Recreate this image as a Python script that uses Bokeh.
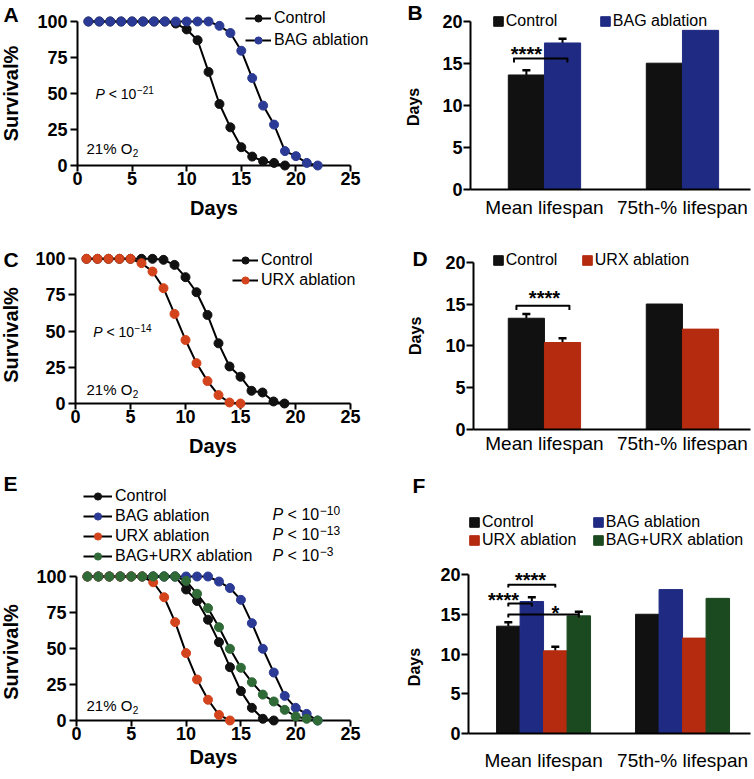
import math
from bokeh.plotting import figure
from bokeh.layouts import column, row
from bokeh.models import (Range1d, FixedTicker, Legend, LegendItem, Label,
                          Whisker, TeeHead, ColumnDataSource)
from bokeh.core.properties import value
from bokeh.embed import file_html
from bokeh.resources import INLINE

FONT = "Liberation Sans"

# ---------------- data ----------------
# Panel A (survival %, BAG ablation)
a_ctrl_days = list(range(1, 20))
a_ctrl = [100, 100, 100, 100, 100, 100, 100, 100, 98.6, 94.5, 87, 65, 42.7, 26.5, 12.7, 6.2, 3.0, 1.8, 0]
a_bag_days = list(range(1, 23))
a_bag = [100, 100, 100, 100, 100, 100, 100, 100, 100, 100, 100, 100, 97, 92, 79.7, 60.7, 41.6, 28.4, 10, 6.5, 1.8, 0]

# Panel C (survival %, URX ablation)
c_ctrl_days = list(range(1, 20))
c_ctrl = [100, 100, 100, 100, 100, 100, 100, 99.3, 95.8, 87.3, 76.9, 61.2, 41.6, 25.6, 18.5, 8.8, 7.6, 1.4, 0]
c_urx_days = list(range(1, 16))
c_urx = [100, 100, 100, 100, 100, 97, 91.2, 79.7, 61.9, 43.9, 27.9, 15.5, 5.8, 0.7, 0]

# Panel E (survival %, all)
e_ctrl_days = list(range(1, 19))
e_ctrl = [100, 100, 100, 100, 100, 100, 100, 100, 100, 91, 83, 70, 54.4, 37, 20.4, 8.8, 1.2, 0]
e_bag_days = list(range(1, 23))
e_bag = [100, 100, 100, 100, 100, 100, 100, 100, 100, 100, 100, 100, 96.5, 92, 83.8, 67.6, 49.8, 33.3, 17.1, 8.8, 4.6, 0]
e_urx_days = list(range(1, 15))
e_urx = [100, 100, 100, 100, 100, 100, 96, 85.6, 68.3, 46.8, 28.5, 14.4, 3.9, 0]
e_combo_days = list(range(1, 23))
e_combo = [100, 100, 100, 100, 100, 100, 100, 100, 100, 97, 88, 78, 64.8, 49.8, 36.6, 26.6, 18, 13.2, 7.4, 2.8, 1.2, 0]

# Bar panels (days): [mean lifespan, 75th-% lifespan]; SEM only for mean
categories = ["Mean lifespan", "75th-% lifespan"]
b_ctrl = [13.6, 15.0]
b_bag = [17.4, 18.9]
b_sem = [0.55, 0.5]

d_ctrl = [13.3, 15.0]
d_urx = [10.4, 12.0]
d_sem = [0.5, 0.5]

f_ctrl = [13.5, 15.0]
f_bag = [16.6, 18.1]
f_urx = [10.4, 12.0]
f_combo = [14.8, 17.0]
f_sem = [0.5, 0.55, 0.5, 0.5]

x_ticks_days = [0, 5, 10, 15, 20, 25]
y_ticks_surv = [0, 25, 50, 75, 100]
y_ticks_bar = [0, 5, 10, 15, 20]

# colours
BLACK = "#111111"
DOT_BLUE = "#2b3b95"
DOT_RED = "#d4441c"
DOT_GREEN = "#2f6a37"
BAR_BLUE = "#1f2a83"
BAR_RED = "#b52b0f"
BAR_GREEN = "#1c4a20"


def make_fig(w, h, left, right, top, bottom, xr, yr):
    p = figure(width=w, height=h, x_range=xr, y_range=yr,
               output_backend="svg", toolbar_location=None,
               min_border_left=left, min_border_right=right,
               min_border_top=top, min_border_bottom=bottom,
               frame_align=False)
    p.outline_line_color = None
    p.xgrid.visible = False
    p.ygrid.visible = False
    for ax in p.axis:
        ax.axis_line_width = 2
        ax.axis_line_color = "black"
        ax.major_tick_line_width = 2
        ax.major_tick_line_color = "black"
        ax.major_tick_in = 0
        ax.minor_tick_line_color = None
        ax.major_label_text_font = FONT
        ax.major_label_text_font_size = "18px"
        ax.major_label_text_font_style = "bold"
        ax.major_label_text_color = "black"
    return p


def free_text(p, x, y, text, xo, yo, size, style="bold", angle=0.0, align="left"):
    # text glyph at overlay level so it may sit outside the frame
    p.text(x=[x], y=[y], text=[text], x_offset=xo, y_offset=yo, angle=angle,
           text_font=value(FONT), text_font_style=style, text_font_size=f"{size}px",
           text_baseline="middle", text_align=align, text_color="black",
           level="overlay")


def add_pvalue(p, x, y, xo, yo, sup, fs, sup_dy):
    common = dict(x=x, y=y, text_font=FONT, text_baseline="middle",
                  text_align="left", text_color="black")
    p.add_layout(Label(x_offset=xo, y_offset=yo, text="P",
                       text_font_style="italic", text_font_size=f"{fs}px", **common))
    p.add_layout(Label(x_offset=xo + fs * 0.945, y_offset=yo, text="< 10",
                       text_font_size=f"{fs}px", **common))
    p.add_layout(Label(x_offset=xo + fs * 2.92 + 0.5, y_offset=yo + sup_dy, text=sup,
                       text_font_size=f"{round(fs * 0.72)}px", **common))


def add_o2(p, xo, yo):
    common = dict(x=0, y=0, text_font=FONT, text_baseline="middle",
                  text_align="left", text_color="black")
    p.add_layout(Label(x_offset=xo, y_offset=yo, text="21% O",
                       text_font_size="15px", **common))
    p.add_layout(Label(x_offset=xo + 15 * 3.057 + 0.5, y_offset=yo - 4.8, text="2",
                       text_font_size="10px", **common))


def survival_panel(dims, x_end, y_end, series, legend_loc, glyph_w, spacing):
    w, h, l, r, t, b = dims
    p = make_fig(w, h, l, r, t, b, Range1d(0, x_end), Range1d(0, y_end))
    p.xaxis.ticker = FixedTicker(ticks=x_ticks_days)
    p.yaxis.ticker = FixedTicker(ticks=y_ticks_surv)
    p.xaxis.bounds = (0, 25)
    p.yaxis.bounds = (0, 100)
    p.xaxis.major_tick_out = 6
    p.xaxis.major_label_standoff = 0
    p.yaxis.major_tick_out = 7
    p.yaxis.major_label_standoff = 3
    items = []
    for days, vals, color, name in series:
        lr = p.line(days, vals, line_color="black", line_width=2)
        sr = p.scatter(days, vals, size=9, fill_color=color, line_color=color,
                       level="overlay")
        items.append(LegendItem(label=name, renderers=[lr, sr]))
    leg = Legend(items=items, location=legend_loc, orientation="vertical",
                 border_line_color=None, background_fill_alpha=0,
                 padding=0, margin=0, spacing=spacing,
                 glyph_width=glyph_w, glyph_height=18, label_height=18,
                 label_standoff=3, label_text_font=FONT,
                 label_text_font_size="16px", label_text_color="black")
    p.add_layout(leg)
    return p


def bar_panel(dims, x_start, px_per_unit, y_end, groups, colors, names, sems, bw,
              legend_cols, cat_standoff):
    w, h, l, r, t, b = dims
    frame_w = w - l - r
    x_end = x_start + frame_w / px_per_unit
    p = make_fig(w, h, l, r, t, b, Range1d(x_start, x_end), Range1d(0, y_end))
    p.xaxis.bounds = (x_start, x_end - 4 / px_per_unit)
    p.yaxis.bounds = (0, 20)
    p.xaxis.ticker = FixedTicker(ticks=list(range(len(categories))))
    p.xaxis.major_label_overrides = {i: c for i, c in enumerate(categories)}
    p.xaxis.major_tick_out = 0
    p.xaxis.major_label_standoff = cat_standoff
    p.xaxis.major_label_text_font_style = "normal"
    p.xaxis.major_label_text_font_size = "19px"
    p.yaxis.ticker = FixedTicker(ticks=y_ticks_bar)
    p.yaxis.major_tick_out = 7
    p.yaxis.major_label_standoff = 1
    n = len(groups)
    renderers = []
    centers = []
    for i, (vals, col) in enumerate(zip(groups, colors)):
        off = (i - (n - 1) / 2) * bw
        xs = [k + off for k in range(len(categories))]
        centers.append(xs)
        rr = p.vbar(x=xs, top=vals, width=bw, bottom=0, fill_color=col, line_color=col)
        renderers.append(rr)
    src = ColumnDataSource(dict(base=[c[0] for c in centers],
                                lower=[g[0] for g in groups],
                                upper=[g[0] + s for g, s in zip(groups, sems)]))
    p.add_layout(Whisker(source=src, base="base", lower="lower", upper="upper",
                         dimension="height", line_width=2, line_color="black",
                         lower_head=None,
                         upper_head=TeeHead(size=8, line_width=2.5, line_color="black")))
    for idx_list, (vx, vy) in legend_cols:
        items = [LegendItem(label=names[i], renderers=[renderers[i]]) for i in idx_list]
        leg = Legend(items=items, location=(vx, vy), orientation="vertical",
                     border_line_color=None, background_fill_alpha=0,
                     padding=0, margin=0, spacing=0,
                     glyph_width=12, glyph_height=12, label_height=18,
                     label_standoff=2, label_text_font=FONT,
                     label_text_font_size="16px", label_text_color="black")
        p.add_layout(leg)
    return p, centers


def bracket(p, x0, x1, y, drop):
    p.multi_line(xs=[[x0, x0, x1, x1]], ys=[[y - drop, y, y, y - drop]],
                 line_color="black", line_width=2, line_join="round")


def stars(p, x, y, s):
    p.text(x=[x], y=[y], text=[s], text_font=value(FONT), text_font_style="bold",
           text_font_size="20px", text_align="center", text_baseline="middle",
           text_color="black")


UP = math.pi / 2

# ---------------- Panel A ----------------
pa = survival_panel((380, 220, 77, 0, 0, 55), 303 / 10.92, 165 / 1.44,
                    [(a_ctrl_days, a_ctrl, BLACK, "Control"),
                     (a_bag_days, a_bag, DOT_BLUE, "BAG ablation")],
                    (168, 116), 26, 4)
free_text(pa, 0, 100, "A", -74, -7, 21)
free_text(pa, 0, 50, "Survival%", -66.5, 0, 20, angle=UP, align="center")
free_text(pa, 12.5, 0, "Days", 0, 42, 20, align="center")
add_pvalue(pa, 0, 100, 18, -72, "\u221221", 14, 4)
add_o2(pa, 9, 17.5)

# ---------------- Panel B ----------------
pb, cb = bar_panel((374, 220, 90, 0, 0, 30), -0.536, 138, 190 / 8.465,
                   [b_ctrl, b_bag], [BLACK, BAR_BLUE], ["Control", "BAG ablation"],
                   b_sem, 0.262, [([0], (21.8, 159)), ([1], (128.8, 159))], 7)
bracket(pb, cb[0][0] - 0.09, cb[1][0] + 0.035, 15.55, 0.47)
stars(pb, cb[0][0], 16.14, "****")
free_text(pb, -0.536, 20, "B", -63, -9, 21)
free_text(pb, -0.536, 10, "Days", -57, 1.6, 16, angle=UP, align="center")

# ---------------- Panel C ----------------
pc = survival_panel((380, 242, 75, 0, 0, 59), 305 / 11.0, 183 / 1.447,
                    [(c_ctrl_days, c_ctrl, BLACK, "Control"),
                     (c_urx_days, c_urx, DOT_RED, "URX ablation")],
                    (157, 114), 26, 2)
free_text(pc, 0, 100, "C", -72, 1, 21)
free_text(pc, 0, 50, "Survival%", -64.5, 3.8, 20, angle=UP, align="center")
free_text(pc, 12.5, 0, "Days", 0, 42, 20, align="center")
add_pvalue(pc, 0, 100, 17.7, -73, "\u221214", 14, 4.3)
add_o2(pc, 11, 14.3)

# ---------------- Panel D ----------------
pd_, cd = bar_panel((374, 242, 93, 0, 0, 33), -0.514, 138, 209 / 8.365,
                    [d_ctrl, d_urx], [BLACK, BAR_RED], ["Control", "URX ablation"],
                    d_sem, 0.262, [([0], (18.8, 160)), ([1], (107.8, 160))], 3)
bracket(pd_, cd[0][0] - 0.072, cd[1][0] + 0.05, 14.8, 0.5)
stars(pd_, (cd[0][0] + cd[1][0]) / 2, 15.77, "****")
free_text(pd_, -0.514, 20, "D", -61, -4, 21)
free_text(pd_, -0.514, 10, "Days", -58, -10, 16, angle=UP, align="center")

# ---------------- Panel E ----------------
pe = survival_panel((380, 317, 76, 0, 0, 59), 304 / 10.96, 258 / 1.44,
                    [(e_ctrl_days, e_ctrl, BLACK, "Control"),
                     (e_bag_days, e_bag, DOT_BLUE, "BAG ablation"),
                     (e_urx_days, e_urx, DOT_RED, "URX ablation"),
                     (e_combo_days, e_combo, DOT_GREEN, "BAG+URX ablation")],
                    (7, 155), 29, 2)
free_text(pe, 0, 100, "E", -73, -93, 21)
free_text(pe, 0, 50, "Survival%", -65.5, 3.5, 20, angle=UP, align="center")
free_text(pe, 12.5, 0, "Days", 0, 36, 20, align="center")
add_pvalue(pe, 0, 100, 196, 62, "\u221210", 16, 4)
add_pvalue(pe, 0, 100, 196, 42, "\u221213", 16, 4)
add_pvalue(pe, 0, 100, 196, 21, "\u22123", 16, 4)
add_o2(pe, 10, 15)

# ---------------- Panel F ----------------
pf, cf = bar_panel((374, 317, 88, 0, 0, 46), -0.54, 139, 271 / 7.95,
                   [f_ctrl, f_bag, f_urx, f_combo],
                   [BLACK, BAR_BLUE, BAR_RED, BAR_GREEN],
                   ["Control", "BAG ablation", "URX ablation", "BAG+URX ablation"],
                   f_sem, 0.169, [([0, 2], (0, 184)), ([1, 3], (123.8, 184))], 16)
bracket(pf, cf[0][0], cf[2][0], 18.7, 0.35)
stars(pf, -0.094, 19.32, "****")
bracket(pf, cf[0][0], cf[1][0], 16.35, 0.38)
stars(pf, -0.288, 16.8, "****")
bracket(pf, cf[0][0], cf[3][0], 14.97, 0.37)
stars(pf, 0.086, 15.17, "*")
free_text(pf, -0.54, 20, "F", -56, -89, 21)
free_text(pf, -0.54, 10, "Days", -54.5, 13, 16, angle=UP, align="center")

layout = column(row(pa, pb), row(pc, pd_), row(pe, pf))
open("out.html", "w").write(file_html(layout, INLINE))
